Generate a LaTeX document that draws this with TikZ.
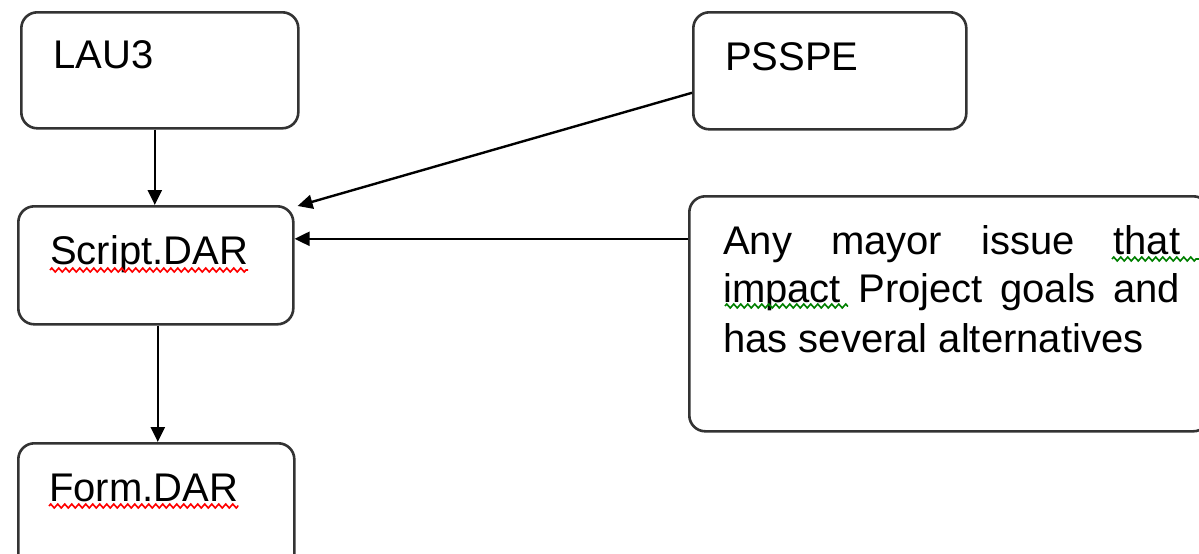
\documentclass[tikz,border=0pt]{standalone}
\usepackage{fontspec}
\setmainfont{Liberation Sans}
\usetikzlibrary{arrows.meta,decorations.pathmorphing}
\begin{document}
\begin{tikzpicture}[x=1pt,y=-1pt,
  box/.style={draw=black!80, line width=2.6pt, rounded corners=16pt, inner sep=0pt, anchor=north west, fill=none},
  txt/.style={inner sep=0pt, anchor=base west, font=\fontsize{40}{48}\selectfont},
  arr/.style={draw=black, line width=2.4pt, -{Triangle[length=15pt,width=14pt]}},
  redsq/.style={draw=red, line width=1.6pt, decorate, decoration={zigzag, segment length=7pt, amplitude=2pt}},
  greensq/.style={draw=green!50!black, line width=1.6pt, decorate, decoration={zigzag, segment length=7pt, amplitude=2pt}}]
\clip (0,0) rectangle (1199,554);
\fill[white] (0,0) rectangle (1199,554);
% boxes
\node[box, minimum width=277pt, minimum height=116pt] (lau) at (20,11) {};
\node[box, minimum width=273pt, minimum height=117pt] (psspe) at (692,11) {};
\node[box, minimum width=275pt, minimum height=118pt] (script) at (17,205) {};
\node[box, minimum width=520pt, minimum height=235pt] (any) at (688,195) {};
\node[box, minimum width=276pt, minimum height=130pt] (form) at (17,442) {};
% texts
\node[txt] (lautxt) at (53,68) {LAU3};
\node[txt] (psspetxt) at (725,70) {PSSPE};
\node[txt] (scripttxt) at (50,264) {Script.DAR};
\node[txt] (formtxt) at (49,501) {Form.DAR};
\node[txt] (anyA) at (723,254) {\makebox[457pt][s]{Any mayor issue that}};
\node[txt] (anyB) at (723,302) {\makebox[457pt][s]{impact Project goals and}};
\node[txt] (anyC) at (723,352) {has several alternatives};
% spell-check underlines
\draw[redsq] ([yshift=-6pt]scripttxt.base west) -- ([yshift=-6pt]scripttxt.base east);
\draw[redsq] ([yshift=-5pt]formtxt.base west) -- ([yshift=-5pt]formtxt.base east);
\draw[greensq] (1112,259) -- (1199,259);
\draw[greensq] (725,306) -- (848,306);
% connectors
\draw[arr] ([xshift=-5pt]lau.south) -- ([xshift=-5pt]lau.south |- script.north);
\draw[arr] ([xshift=2pt]script.south) -- ([xshift=2pt]script.south |- form.north);
\draw[arr] ([yshift=-22pt]psspe.west) -- ([xshift=3pt,yshift=-1pt]script.north east);
\draw[arr] ([yshift=75pt]any.west) -- ([yshift=75pt]any.west -| script.east);
\end{tikzpicture}
\end{document}
